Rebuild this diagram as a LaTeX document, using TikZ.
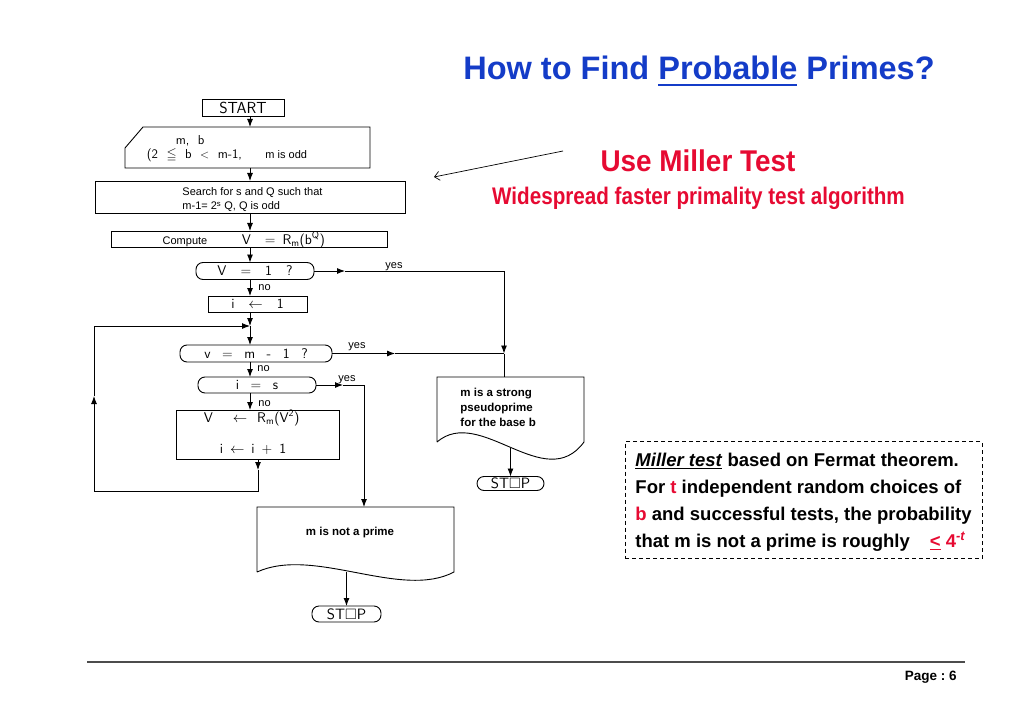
\documentclass[tikz,border=0pt]{standalone}
\usepackage{amsmath,amssymb}
\usepackage{fontspec}
\setmainfont{Liberation Sans}
\usetikzlibrary{arrows.meta,calc}
\definecolor{titleblue}{RGB}{20,60,200}
\definecolor{hotred}{RGB}{230,10,50}

\begin{document}
\begin{tikzpicture}[
x=1pt, y=-1pt, line width=0.9pt,
>={Latex[length=8pt,width=6pt]},
    P/.style = {font=\sffamily\fontsize{14}{16}\selectfont},% plotter-like text of the chart
    S/.style = {font=\fontsize{11}{13}\selectfont, inner sep=0pt},% small labels
    B/.style = {rectangle, draw, outer sep=0pt, inner sep=0pt},% process boxes
    D/.style = {rectangle, draw, rounded corners=7pt,
                outer sep=0pt, inner sep=0pt},% test boxes
    E/.style = {rectangle, outer sep=0pt, inner sep=0pt},% frame of drawn shapes
    K/.style = {font=\bfseries\fontsize{11.5}{15}\selectfont, inner sep=0pt},% bold notes
    N/.style = {font=\bfseries\fontsize{18.5}{22}\selectfont, inner sep=0pt},% remark lines
                        ]
\useasboundingbox (0,0) rectangle (1024,711);
% heading
\node[anchor=base, font=\bfseries\fontsize{32.5}{36}\selectfont, text=titleblue] (title) at (699,80) {How to Find \underline{Probable} Primes?};
\node[anchor=base, font=\bfseries\fontsize{30}{32}\selectfont, text=hotred] (use) at (698,172) {\scalebox{0.93}[1]{Use Miller Test}};
\node[anchor=base, font=\bfseries\fontsize{24}{26}\selectfont, text=hotred] (wide) at (698.5,205) {\scalebox{0.86}[1]{Widespread faster primality test algorithm}};
\coordinate (ptr-s) at (563,151);
\coordinate (ptr-e) at (434,177);
\draw[line width=0.7pt, -{Straight Barb[length=5pt,width=9pt]}] (ptr-s) -- (ptr-e);
% flow chart
\coordinate (spine) at (250,0);
\node[B, P, font=\sffamily\fontsize{16}{18}\selectfont, minimum width=82pt, minimum height=17pt] (start) at (243,108) {START};
\node[E, minimum width=245pt, minimum height=41pt] (inp) at (247.5,147.5) {};
\draw ($(inp.north west)+(18,0)$) -- (inp.north east) -- (inp.south east) -- (inp.south west) -- ($(inp.north west)+(0,21)$) -- cycle;
\node[P, anchor=base west, font=\sffamily\fontsize{13}{15}\selectfont] (inp-a) at (172,145) {m,\ \ b};
\node[P, anchor=base west, font=\sffamily\fontsize{13}{15}\selectfont] (inp-b) at (143,159) {(2\ \ $\leqq$\ \ b\ \ $<$\ \ m-1,};
\node[S, anchor=base west] (inp-c) at (265,159) {m is odd};
\node[B, minimum width=310pt, minimum height=32pt] (srch) at (250,197) {};
\node[S, anchor=base west] (srch-a) at (182,196) {Search for s and Q such that};
\node[S, anchor=base west] (srch-b) at (182,210) {m-1= 2\textsuperscript{s} Q, Q is odd};
\node[B, minimum width=276pt, minimum height=16pt] (comp) at (249,239) {};
\node[S, anchor=base] (comp-a) at (185,244) {Compute};
\node[P, anchor=base west] (comp-b) at (238,244) {V\quad=\enspace R\textsubscript{m}(b\textsuperscript{Q})};
\node[D, P, minimum width=118pt, minimum height=17pt] (v1) at (255,271) {V\quad=\quad1\quad?};
\node[B, P, minimum width=99pt, minimum height=16pt] (i1) at (257.5,304) {i\quad$\leftarrow$\quad1};
\coordinate (merge) at (250,326);
\node[D, P, minimum width=152pt, minimum height=17pt] (vm1) at (256,353.5) {v\enspace\ =\enspace\ m\enspace\ -\enspace\ 1\enspace\ ?};
\node[D, P, minimum width=118pt, minimum height=16pt] (is) at (257,385) {i\enspace\ =\enspace\ s};
\node[B, minimum width=163pt, minimum height=49pt] (upd) at (257.5,434.5) {};
\node[P, anchor=base west] (upd-a) at (200,422) {V\hspace{20pt}$\leftarrow$\hspace{10pt}R\textsubscript{m}(V\textsuperscript{2})};
\node[P, anchor=base west] (upd-b) at (216,453) {i\enspace$\leftarrow$\enspace i\enspace+\enspace1};
% outputs
\node[E, minimum width=147pt, minimum height=65pt] (strong) at (510.5,409.5) {};
\draw (strong.south west) -- (strong.north west) -- (strong.north east) -- (strong.south east)
  .. controls ($(strong.south east)+(-39,53)$) and ($(strong.south west)+(43,-37)$) .. (strong.south west);
\foreach \txt [count=\k] in {m is a strong, pseudoprime, for the base b}
    \node[K, anchor=base west] (strong-\k) at (460,381+15*\k) {\txt};
\node[D, P, font=\sffamily\fontsize{15}{17}\selectfont, minimum width=67pt, minimum height=14pt] (stop1) at (510.5,483.5) {ST$\square$P};
\node[E, minimum width=197pt, minimum height=65pt] (notprime) at (355.5,539.5) {};
\draw (notprime.south west) -- (notprime.north west) -- (notprime.north east) -- (notprime.south east)
  .. controls ($(notprime.south east)+(-53,28)$) and ($(notprime.south west)+(57,-26)$) .. (notprime.south west);
\node[K, anchor=base] (notprime-t) at (350,535) {m is not a prime};
\node[D, P, font=\sffamily\fontsize{15}{17}\selectfont, minimum width=69pt, minimum height=16pt] (stop2) at (346.5,614) {ST$\square$P};
% main line
\draw[->] (start.south -| spine) -- (spine |- inp.north);
\draw[->] (inp.south -| spine) -- (spine |- srch.north);
\draw[->] (srch.south -| spine) -- (spine |- comp.north);
\draw[->] (comp.south -| spine) -- (spine |- v1.north);
\draw[->] (v1.south -| spine) -- (spine |- i1.north);
\draw[->] (i1.south -| spine) -- (merge);
\draw[->] (merge) -- (spine |- vm1.north);
\draw[->] (vm1.south -| spine) -- (spine |- is.north);
\draw[->] (is.south -| spine) -- (spine |- upd.north);
% loop back
\coordinate (lp-a) at (258,470);
\coordinate (lp-b) at (258,491);
\coordinate (lp-c) at (94,491);
\coordinate (lp-d) at (94,396);
\coordinate (lp-e) at (94,326);
\draw[->] (upd.south -| lp-a) -- (lp-a);
\draw (lp-a) -- (lp-b) -- (lp-c);
\draw[->] (lp-c) -- (lp-d);
\draw[->] (lp-d) -- (lp-e) -- (merge);
% yes branches
\coordinate (yes1-m) at (345,271);
\coordinate (yes1-c) at (504,271);
\coordinate (yes-j) at (504,353.5);
\coordinate (yes2-m) at (395,353.5);
\coordinate (yes3-m) at (343,385);
\coordinate (yes3-c) at (364,385);
\draw[->] (v1.east) -- (yes1-m);
\draw (yes1-m) -- (yes1-c);
\draw[->] (yes1-c) -- (yes-j);
\draw[->] (vm1.east) -- (yes2-m);
\draw (yes2-m) -- (yes-j);
\draw (yes-j) -- (yes-j |- strong.north);
\draw[->] (is.east) -- (yes3-m);
\draw (yes3-m) -- (yes3-c);
\draw[->] (yes3-c) -- (yes3-c |- notprime.north);
\draw[->] ($(stop1.north |- strong.south)+(0,6)$) -- (stop1.north);
\draw[->] (stop2.north |- notprime.south) -- (stop2.north);
\node[S, anchor=base west] (yes1) at (385,268) {yes};
\node[S, anchor=base west] (no1) at (258,290) {no};
\node[S, anchor=base west] (yes2) at (348,348) {yes};
\node[S, anchor=base west] (no2) at (257,371) {no};
\node[S, anchor=base west] (yes3) at (338,381) {yes};
\node[S, anchor=base west] (no3) at (258,406) {no};
% remark
\node[draw, line width=0.8pt, dash pattern=on 4pt off 3pt, minimum width=357pt, minimum height=117pt, inner sep=0pt] (note) at (803.5,500) {};
\foreach \txt [count=\k] in {{\underline{\textit{Miller test}} based on Fermat theorem.},
    {For \textcolor{hotred}{t} independent random choices of},
    {\textcolor{hotred}{b} and successful tests, the probability},
    {that m is not a prime is roughly\hspace{20pt}\textcolor{hotred}{\underline{<} 4\textsuperscript{\textit{-t}}}}}
    \node[N, anchor=base west] (note-\k) at (635,439+27*\k) {\txt};
% footer
\draw[line width=1.6pt, black!70] (87,662) -- (965,662);
\node[anchor=base east, inner sep=0pt, font=\bfseries\fontsize{13.5}{15}\selectfont] (page) at (957,680) {Page :\ 6};
\end{tikzpicture}
\end{document}
